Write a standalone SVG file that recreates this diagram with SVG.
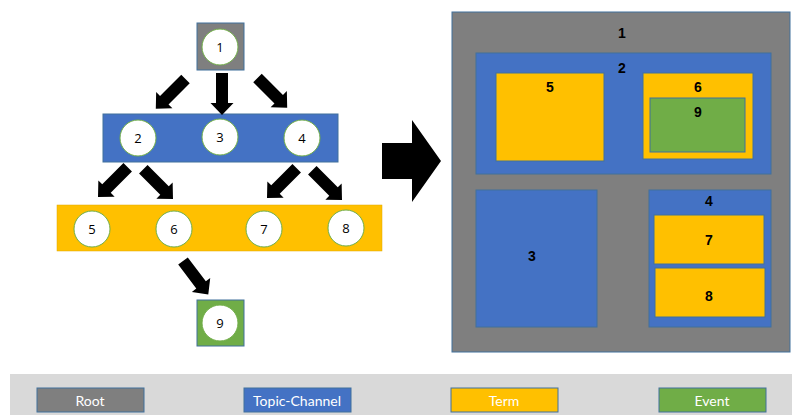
<svg xmlns="http://www.w3.org/2000/svg" width="792" height="415" viewBox="0 0 792 415">
<defs>
<style>
.box{stroke:#41719c;stroke-width:1}
.grey{fill:#7f7f7f}
.blue{fill:#4472c4}
.yel{fill:#ffc000}
.grn{fill:#70ad47}
.cir{fill:#ffffff;stroke:#70ad47;stroke-width:1}
.cl{font-family:"Open Sans","Liberation Sans",sans-serif;font-size:13px;fill:#000;text-anchor:middle;dominant-baseline:central}
.bl{font-family:"Liberation Sans",Arial,sans-serif;font-size:14px;font-weight:bold;fill:#000;text-anchor:middle;dominant-baseline:central}
.lg{font-family:Lato,"Open Sans",sans-serif;font-size:14px;fill:#fff;text-anchor:middle;dominant-baseline:central}
.arr{fill:#000}
</style>
<path id="ba" d="M0,-6 L30,-6 L30,-11.5 L42,0 L30,11.5 L30,6 L0,6 Z"/>
</defs>
<rect width="792" height="415" fill="#fff"/>

<!-- Left tree -->
<g id="n1"><rect class="box grey" x="197" y="23" width="47" height="47"/><circle class="cir" cx="220" cy="47" r="18"/><text class="cl" x="220" y="47">1</text></g>
<g id="bar-topic"><rect class="box blue" x="103" y="114" width="235" height="48"/></g>
<g id="n2"><circle class="cir" cx="138" cy="138" r="18"/><text class="cl" x="138" y="138">2</text></g>
<g id="n3"><circle class="cir" cx="220" cy="137" r="18"/><text class="cl" x="220" y="137">3</text></g>
<g id="n4"><circle class="cir" cx="302" cy="138" r="18"/><text class="cl" x="302" y="138">4</text></g>
<g id="bar-term"><rect class="yel" x="57" y="205" width="325" height="46" stroke="#e0a800" stroke-width="0.5"/></g>
<g id="n5"><circle class="cir" cx="92" cy="229" r="18"/><text class="cl" x="92" y="229">5</text></g>
<g id="n6"><circle class="cir" cx="174" cy="229" r="18"/><text class="cl" x="174" y="229">6</text></g>
<g id="n7"><circle class="cir" cx="264" cy="229" r="18"/><text class="cl" x="264" y="229">7</text></g>
<g id="n8"><circle class="cir" cx="346" cy="228" r="18"/><text class="cl" x="346" y="228">8</text></g>
<g id="n9"><rect class="box grn" x="197" y="300" width="47" height="46"/><circle class="cir" cx="220" cy="323" r="18" stroke="#fff"/><text class="cl" x="220" y="323">9</text></g>

<g id="connectors" class="arr">
<use href="#ba" transform="translate(222,73) rotate(90)"/>
<use href="#ba" transform="translate(185.5,79) rotate(135)"/>
<use href="#ba" transform="translate(257.5,78) rotate(45)"/>
<use href="#ba" transform="translate(127.7,167.3) rotate(135)"/>
<use href="#ba" transform="translate(143.3,169.3) rotate(45)"/>
<use href="#ba" transform="translate(296.7,168.3) rotate(135)"/>
<use href="#ba" transform="translate(312.3,170.3) rotate(45)"/>
<use href="#ba" transform="translate(183,261) rotate(53)"/>
<path d="M382,143 L412,143 L412,120 L441,161 L412,202 L412,179 L382,179 Z"/>
</g>

<!-- Right nested view -->
<g id="r1"><rect class="box grey" x="452" y="12" width="338" height="340"/><text class="bl" x="622" y="33">1</text></g>
<g id="r2"><rect class="box blue" x="476" y="53" width="295" height="121"/><text class="bl" x="622" y="68">2</text></g>
<g id="r5"><rect class="box yel" x="496" y="73" width="108" height="88"/><text class="bl" x="550" y="87">5</text></g>
<g id="r6"><rect class="box yel" x="643" y="73" width="110" height="86"/><text class="bl" x="698" y="87">6</text></g>
<g id="r9"><rect class="box grn" x="650" y="98" width="95" height="54"/><text class="bl" x="698" y="112">9</text></g>
<g id="r3"><rect class="box blue" x="476" y="190" width="121" height="137"/><text class="bl" x="532" y="256">3</text></g>
<g id="r4"><rect class="box blue" x="649" y="190" width="122" height="137"/><text class="bl" x="709" y="201">4</text></g>
<g id="r7"><rect class="box yel" x="654" y="215" width="110" height="49"/><text class="bl" x="709" y="240">7</text></g>
<g id="r8"><rect class="box yel" x="655" y="268" width="110" height="49"/><text class="bl" x="709" y="296">8</text></g>

<!-- Legend -->
<g id="legend">
<rect x="10" y="374" width="782" height="41" fill="#d9d9d9"/>
<rect class="box grey" x="37" y="388" width="107" height="24"/><text class="lg" x="90" y="400">Root</text>
<rect class="box blue" x="244" y="388" width="107" height="24"/><text class="lg" x="297" y="400">Topic-Channel</text>
<rect class="box yel" x="451" y="388" width="107" height="24"/><text class="lg" x="504" y="400">Term</text>
<rect class="box grn" x="659" y="388" width="107" height="24"/><text class="lg" x="712" y="400">Event</text>
</g>
</svg>
